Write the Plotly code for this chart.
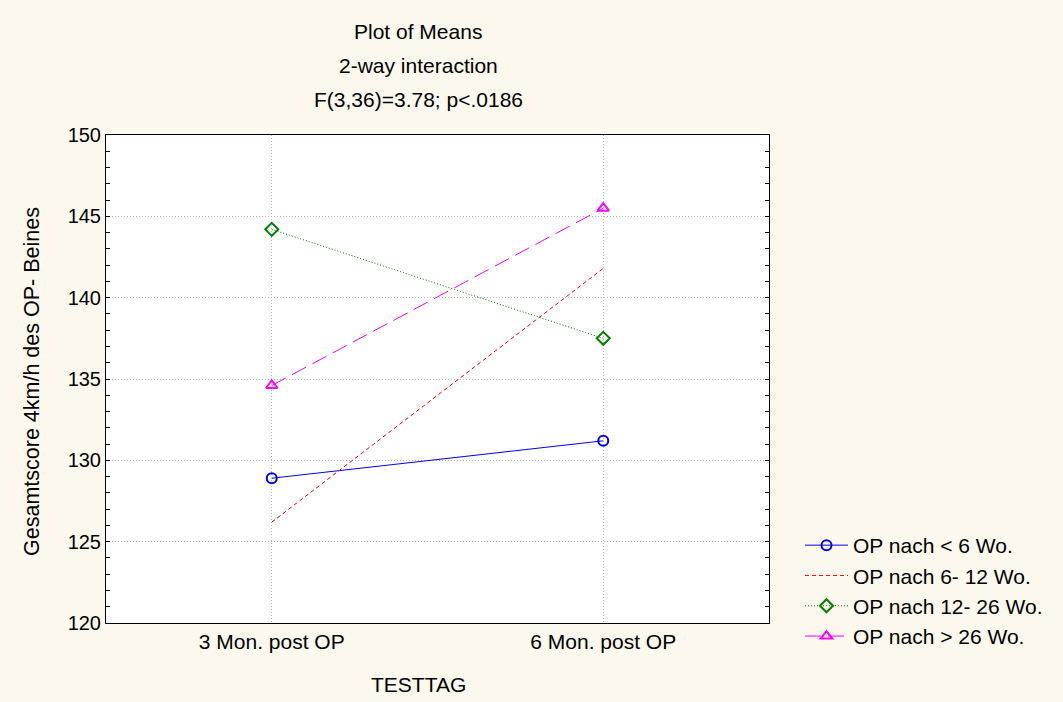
import plotly.graph_objects as go

# Means per test day and surgery timing group
testtag = ["3 Mon. post OP", "6 Mon. post OP"]
group_names = ["OP nach < 6 Wo.", "OP nach 6- 12 Wo.", "OP nach 12- 26 Wo.", "OP nach > 26 Wo."]
means_lt6 = [128.9, 131.2]
means_6_12 = [126.2, 141.8]
means_12_26 = [144.2, 137.5]
means_gt26 = [134.6, 145.5]

series = [means_lt6, means_6_12, means_12_26, means_gt26]
colors = ["#0000ff", "#ff0000", "#008000", "#ff00ff"]
dashes = ["solid", "4px,3px", "1px,2px", "16px,7px"]
symbols = ["circle-open", None, "diamond-open", "triangle-up-open"]

FONT = "Liberation Sans, Arial, sans-serif"
BG = "#fcf8ed"
GRID = "#bdbdbd"

fig = go.Figure()
for name, vals, col, dash, sym in zip(group_names, series, colors, dashes, symbols):
    fig.add_trace(go.Scatter(
        x=[0, 1], y=vals, name=name,
        mode="lines+markers" if sym else "lines",
        line=dict(color=col, width=1, dash=dash),
        marker=dict(symbol=sym, size=10, color=col, line=dict(width=2, color=col)) if sym else None,
    ))

fig.update_layout(
    width=1063, height=702,
    margin=dict(l=106, r=294, t=135, b=79),
    paper_bgcolor=BG, plot_bgcolor="white",
    font=dict(family=FONT, size=20, color="black"),
    showlegend=True,
    legend=dict(
        xref="container", yref="container",
        x=800 / 1063, y=1 - 525 / 702, xanchor="left", yanchor="top",
        bgcolor="rgba(0,0,0,0)", font=dict(size=21),
        tracegroupgap=0, itemwidth=43,
    ),
)

fig.update_xaxes(
    range=[-0.5, 1.5], tickvals=[0, 1], ticktext=testtag,
    showline=True, linecolor="black", linewidth=1, mirror=True,
    ticks="", showgrid=True, gridcolor=GRID, griddash="1px,2px", gridwidth=1,
    zeroline=False, tickfont=dict(size=21),
)
fig.update_yaxes(
    range=[120, 150], dtick=5,
    showline=True, linecolor="black", linewidth=1, mirror="ticks",
    ticks="inside", ticklen=4, tickcolor="black",
    minor=dict(dtick=1, ticks="inside", ticklen=4, tickcolor="black", showgrid=False),
    showgrid=True, gridcolor=GRID, griddash="1px,2px", gridwidth=1,
    zeroline=False, tickfont=dict(size=20),
)

# Axis titles
fig.add_annotation(
    text="TESTTAG", xref="paper", yref="paper",
    x=(418 - 106) / 663, y=-(684 - 623) / 488,
    xanchor="center", yanchor="middle", showarrow=False,
    font=dict(size=21, family=FONT),
)
fig.add_annotation(
    text="Gesamtscore 4km/h des OP- Beines", xref="paper", yref="paper",
    x=-(106 - 32) / 663, y=(623 - 382) / 488, textangle=-90,
    xanchor="center", yanchor="middle", showarrow=False,
    font=dict(size=21.5, family=FONT),
)

# Three-line chart heading
titles = ["Plot of Means", "2-way interaction", "F(3,36)=3.78; p<.0186"]
for i, t in enumerate(titles):
    fig.add_annotation(
        text=t, xref="paper", yref="paper",
        x=(418 - 106) / 663, y=1 + (135 - (31 + 34 * i)) / 488,
        xanchor="center", yanchor="middle", showarrow=False,
        font=dict(size=21, family=FONT),
    )

fig.write_html("out.html")
